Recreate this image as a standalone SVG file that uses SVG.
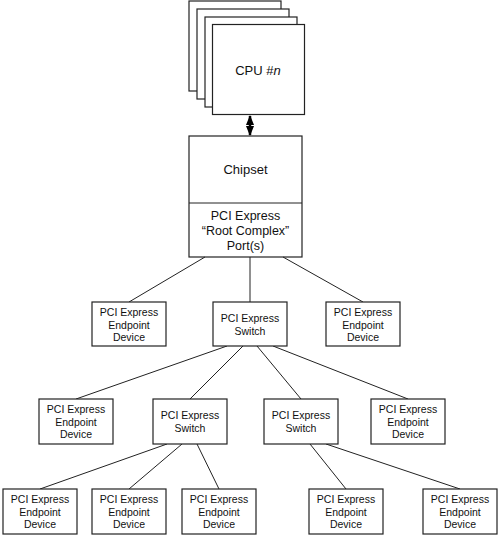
<svg xmlns="http://www.w3.org/2000/svg" width="500" height="537" viewBox="0 0 500 537">
<style>
.box{fill:#fff;stroke:#222;stroke-width:1.2}
.ln{stroke:#222;stroke-width:1;fill:none}
text{font-family:"Liberation Sans",Arial,sans-serif;fill:#111;text-anchor:middle}
.s{font-size:10.5px}
.m{font-size:12.5px}
.l{font-size:13px}
</style>
<defs>
<marker id="ah" viewBox="0 0 10 8" refX="9" refY="4" markerWidth="10" markerHeight="8" markerUnits="userSpaceOnUse" orient="auto-start-reverse">
<path d="M0,0 L10,4 L0,8 Z" fill="#000"/>
</marker>
</defs>
<rect width="500" height="537" fill="#fff"/>
<g id="cpu">
<rect class="box" x="189" y="1" width="92" height="90"/>
<rect class="box" x="197" y="9" width="92" height="90"/>
<rect class="box" x="205" y="17" width="92" height="90"/>
<rect class="box" x="212.5" y="24.5" width="92" height="90"/>
<text class="l" x="258" y="74.5">CPU #<tspan font-style="italic">n</tspan></text>
</g>
<g id="chipset">
<rect class="box" x="189" y="136" width="113" height="121"/>
<line class="ln" x1="189" y1="203" x2="302" y2="203"/>
<text class="l" x="245.5" y="173.5">Chipset</text>
<text class="m" x="245.5" y="219.5">PCI Express</text>
<text class="m" x="245.5" y="234.5">“Root Complex”</text>
<text class="m" x="245.5" y="249.5">Port(s)</text>
</g>
<g id="connectors">
<line x1="250" y1="116" x2="250" y2="135" stroke="#000" stroke-width="2.5" marker-start="url(#ah)" marker-end="url(#ah)"/>
<line class="ln" x1="205" y1="257" x2="129" y2="302"/>
<line class="ln" x1="250" y1="257" x2="250" y2="302"/>
<line class="ln" x1="283" y1="257" x2="363" y2="302"/>
<line class="ln" x1="227" y1="346" x2="76" y2="399"/>
<line class="ln" x1="243" y1="346" x2="190" y2="399"/>
<line class="ln" x1="257" y1="346" x2="301" y2="399"/>
<line class="ln" x1="273" y1="346" x2="408" y2="399"/>
<line class="ln" x1="167" y1="444" x2="40" y2="489"/>
<line class="ln" x1="182" y1="444" x2="129" y2="489"/>
<line class="ln" x1="197" y1="444" x2="219" y2="489"/>
<line class="ln" x1="310" y1="444" x2="346" y2="489"/>
<line class="ln" x1="326" y1="444" x2="460" y2="489"/>
</g>
<g id="ep1">
<rect class="box" x="92" y="302" width="74" height="44"/>
<text class="s" x="129" y="316">PCI Express</text>
<text class="s" x="129" y="328.5">Endpoint</text>
<text class="s" x="129" y="341">Device</text>
</g>
<g id="sw1">
<rect class="box" x="213" y="302" width="74" height="44"/>
<text class="s" x="250" y="322">PCI Express</text>
<text class="s" x="250" y="334.5">Switch</text>
</g>
<g id="ep2">
<rect class="box" x="326" y="302" width="74" height="44"/>
<text class="s" x="363" y="316">PCI Express</text>
<text class="s" x="363" y="328.5">Endpoint</text>
<text class="s" x="363" y="341">Device</text>
</g>
<g id="ep3">
<rect class="box" x="39" y="399" width="74" height="45"/>
<text class="s" x="76" y="413">PCI Express</text>
<text class="s" x="76" y="425.5">Endpoint</text>
<text class="s" x="76" y="438">Device</text>
</g>
<g id="sw2">
<rect class="box" x="153" y="399" width="74" height="45"/>
<text class="s" x="190" y="419">PCI Express</text>
<text class="s" x="190" y="431.5">Switch</text>
</g>
<g id="sw3">
<rect class="box" x="264" y="399" width="74" height="45"/>
<text class="s" x="301" y="419">PCI Express</text>
<text class="s" x="301" y="431.5">Switch</text>
</g>
<g id="ep4">
<rect class="box" x="371" y="399" width="74" height="45"/>
<text class="s" x="408" y="413">PCI Express</text>
<text class="s" x="408" y="425.5">Endpoint</text>
<text class="s" x="408" y="438">Device</text>
</g>
<g id="ep5">
<rect class="box" x="3" y="489" width="74" height="45"/>
<text class="s" x="40" y="503">PCI Express</text>
<text class="s" x="40" y="515.5">Endpoint</text>
<text class="s" x="40" y="528">Device</text>
</g>
<g id="ep6">
<rect class="box" x="92" y="489" width="74" height="45"/>
<text class="s" x="129" y="503">PCI Express</text>
<text class="s" x="129" y="515.5">Endpoint</text>
<text class="s" x="129" y="528">Device</text>
</g>
<g id="ep7">
<rect class="box" x="182" y="489" width="74" height="45"/>
<text class="s" x="219" y="503">PCI Express</text>
<text class="s" x="219" y="515.5">Endpoint</text>
<text class="s" x="219" y="528">Device</text>
</g>
<g id="ep8">
<rect class="box" x="309" y="489" width="74" height="45"/>
<text class="s" x="346" y="503">PCI Express</text>
<text class="s" x="346" y="515.5">Endpoint</text>
<text class="s" x="346" y="528">Device</text>
</g>
<g id="ep9">
<rect class="box" x="423" y="489" width="74" height="45"/>
<text class="s" x="460" y="503">PCI Express</text>
<text class="s" x="460" y="515.5">Endpoint</text>
<text class="s" x="460" y="528">Device</text>
</g>
</svg>
